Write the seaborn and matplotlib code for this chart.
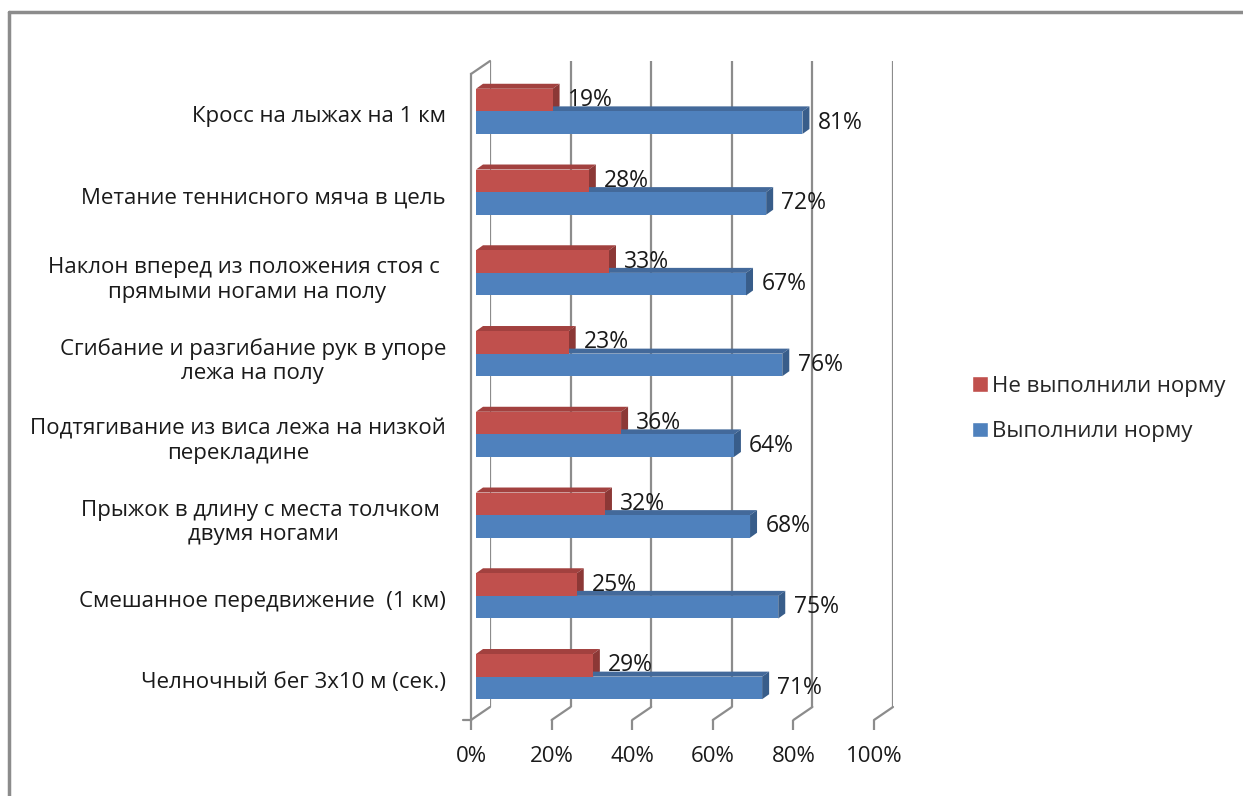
import numpy as np
import pandas as pd
import matplotlib
matplotlib.use('Agg')
import matplotlib.pyplot as plt
from matplotlib.patches import Patch, Polygon, ConnectionPatch
from matplotlib.lines import Line2D
import seaborn as sns

# Data
categories = [
    'Кросс на лыжах на 1 км',
    'Метание теннисного мяча в цель',
    'Наклон вперед из положения стоя с \nпрямыми ногами на полу',
    'Сгибание и разгибание рук в упоре\nлежа на полу',
    'Подтягивание из виса лежа на низкой\nперекладине',
    'Прыжок в длину с места толчком \nдвумя ногами',
    'Смешанное передвижение  (1 км)',
    'Челночный бег 3х10 м (сек.)',
]
not_passed = [19, 28, 33, 23, 36, 32, 25, 29]
passed = [81, 72, 67, 76, 64, 68, 75, 71]
series = ['Не выполнили норму', 'Выполнили норму']
x_ticks = [0, 20, 40, 60, 80, 100]

RED, BLUE = '#C0504D', '#4F81BD'
RED_TOP, RED_SIDE = '#A2413F', '#8C3836'
BLUE_TOP, BLUE_SIDE = '#43699A', '#385D8A'
GRID = '#8C8C8C'
TEXT = '#1a1a1a'

sns.set_style('white')
plt.rcParams['font.family'] = ['Open Sans', 'DejaVu Sans']

df = pd.DataFrame({
    'category': categories * 2,
    'value': [v / 100 for v in not_passed + passed],
    'series': [series[0]] * len(categories) + [series[1]] * len(categories),
})

W, H = 1243, 796
fig = plt.figure(figsize=(W / 100, H / 100), dpi=100)


def box(left, top, right, bottom):
    return [left / W, 1 - bottom / H, (right - left) / W, (bottom - top) / H]


# front plane (axis, ticks), back wall (grid), middle plane (bars)
front = [471, 74, 874, 720]
ax_back = fig.add_axes(box(front[0] + 19, front[1] - 13, front[2] + 19, front[3] - 13))
ax_front = fig.add_axes(box(*front))
ax = fig.add_axes(box(front[0] + 5, front[1] - 3, front[2] + 5, front[3] - 3))

n = len(categories)
for a in (ax_back, ax_front, ax):
    a.set_xlim(0, 1)
    a.set_ylim(n - 0.5, -0.5)
    a.patch.set_alpha(0)

# back wall
ax_back.set_axis_off()
for t in x_ticks:
    ax_back.axvline(t / 100, color=GRID, lw=1.6, zorder=0)

# bars
sns.barplot(data=df, x='value', y='category', hue='series', hue_order=series,
            palette=[RED, BLUE], orient='h', width=0.56, saturation=1,
            linewidth=0, legend=False, ax=ax, zorder=3)
ax.set_xlim(0, 1)
ax.set_ylim(n - 0.5, -0.5)
ax.set_axis_off()

# fake 3D faces on each bar
inv = ax.transData.inverted()
o = ax.transData.transform((0, 0))
ddx, ddy = inv.transform(o + np.array([7, 5]))
ddy = -abs(ddy)
for container, top_c, side_c in zip(ax.containers, [RED_TOP, BLUE_TOP], [RED_SIDE, BLUE_SIDE]):
    for p in container:
        x0, y0 = p.get_x(), p.get_y()
        x1, y1 = x0 + p.get_width(), y0 + p.get_height()
        ax.add_patch(Polygon([(x0, y0), (x0 + ddx, y0 + ddy), (x1 + ddx, y0 + ddy), (x1, y0)],
                             closed=True, facecolor=top_c, edgecolor='none', zorder=2))
        ax.add_patch(Polygon([(x1, y0), (x1 + ddx, y0 + ddy), (x1 + ddx, y1 + ddy), (x1, y1)],
                             closed=True, facecolor=side_c, edgecolor='none', zorder=2))

for container, vals in zip(ax.containers, [not_passed, passed]):
    ax.bar_label(container, labels=[f'{v}%' for v in vals], padding=11,
                 fontsize=16.5, color=TEXT)

# front axis
for s in ['top', 'right', 'bottom']:
    ax_front.spines[s].set_visible(False)
ax_front.spines['left'].set_color(GRID)
ax_front.spines['left'].set_linewidth(1.6)
ax_front.set_yticks(range(n))
ax_front.set_yticklabels(categories, fontsize=16, multialignment='center', color=TEXT)
ax_front.set_yticks(np.arange(-0.5, n), minor=True)
ax_front.tick_params(axis='y', which='major', length=0, pad=18)
ax_front.tick_params(axis='y', which='minor', length=8, width=1.6, color=GRID)
ax_front.set_xticks([t / 100 for t in x_ticks])
ax_front.set_xticklabels([f'{t}%' for t in x_ticks], fontsize=16, color=TEXT)
ax_front.tick_params(axis='x', length=7, width=1.6, color=GRID, pad=12, bottom=True)
ax_front.set_xlabel('')
ax_front.set_ylabel('')

# floor / corner edges connecting front and back planes
for t in x_ticks:
    fig.add_artist(ConnectionPatch((t / 100, n - 0.5), (t / 100, n - 0.5), 'data', 'data',
                                   axesA=ax_front, axesB=ax_back, color=GRID, lw=1.6))
fig.add_artist(ConnectionPatch((0, -0.5), (0, -0.5), 'data', 'data',
                               axesA=ax_front, axesB=ax_back, color=GRID, lw=1.6))
fig.add_artist(Line2D([463 / W, 471 / W], [1 - 720 / H, 1 - 720 / H], color=GRID, lw=1.6))

# legend
handles = [Patch(facecolor=RED, label=series[0]), Patch(facecolor=BLUE, label=series[1])]
fig.legend(handles=handles, loc='center left', bbox_to_anchor=(952 / W, 1 - 409 / H),
           frameon=False, fontsize=16, handlelength=0.7, handleheight=0.7,
           handletextpad=0.2, labelspacing=1.1)

# outer chart border (top and left)
fig.add_artist(Line2D([9 / W, 1], [1 - 12 / H, 1 - 12 / H], color=GRID, lw=2.5))
fig.add_artist(Line2D([9 / W, 9 / W], [0, 1 - 12 / H], color=GRID, lw=2.5))

fig.savefig('out.png', dpi=100)
